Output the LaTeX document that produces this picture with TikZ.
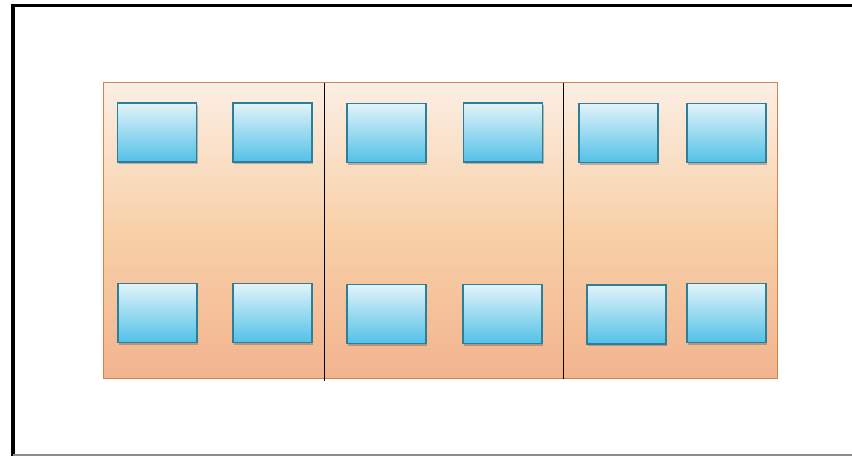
\documentclass[tikz,border=0pt]{standalone}
\usetikzlibrary{shadows}
\definecolor{frametop}{HTML}{FBEEE4}
\definecolor{framemid}{HTML}{F8D0A8}
\definecolor{framebot}{HTML}{F2B48E}
\definecolor{frameedge}{HTML}{D9804A}
\definecolor{boxtop}{HTML}{E2F3F9}
\definecolor{boxbot}{HTML}{52C1E7}
\definecolor{boxedge}{HTML}{2A7F9A}
\tikzset{
  cellbox/.style={rectangle, draw=boxedge, line width=1.4pt, inner sep=0pt,
    minimum width=79pt, minimum height=59pt,
    top color=boxtop, bottom color=boxbot,
    drop shadow={shadow xshift=1pt, shadow yshift=-2pt, opacity=0.35, fill=black!70}},
  panel/.style={rectangle, draw=frameedge, line width=0.8pt, inner sep=0pt,
    top color=frametop, bottom color=framebot, middle color=framemid},
  divider/.style={draw=black, line width=1.2pt},
  outerframe/.style={draw=black, line width=3.8pt}
}
\begin{document}
\begin{tikzpicture}[x=1pt,y=-1pt]
\useasboundingbox (0,0) rectangle (852,456);
\fill[white] (0,0) rectangle (852,456);
% outer frame
\coordinate (tl) at (13,5.5);
\coordinate (tr) at (852,5.5);
\coordinate (bl) at (13,456);
\draw[outerframe] (tr) -- (tl) -- (bl);
\draw[draw=black!45, line width=1.5pt] (13,455) -- (852,455);
% panel
\node[panel, minimum width=674pt, minimum height=296pt] (panel) at (440.5,230) {};
% dividers
\coordinate (d1t) at (324.5,83);
\coordinate (d1b) at (324.5,381);
\coordinate (d2t) at (563.5,83);
\coordinate (d2b) at (563.5,379);
\draw[divider] (d1t) -- (d1b);
\draw[divider] (d2t) -- (d2b);
% top row
\node[cellbox] (a1) at (157,132.5) {};
\node[cellbox] (a2) at (272.5,132.5) {};
\node[cellbox] (a3) at (386.5,133) {};
\node[cellbox] (a4) at (503,132.5) {};
\node[cellbox] (a5) at (618.5,133) {};
\node[cellbox] (a6) at (726.5,133) {};
% bottom row
\node[cellbox] (b1) at (157.5,313) {};
\node[cellbox] (b2) at (272.5,313) {};
\node[cellbox] (b3) at (386.5,314) {};
\node[cellbox] (b4) at (502.5,314) {};
\node[cellbox] (b5) at (626.5,314.5) {};
\node[cellbox] (b6) at (726.5,313) {};
\end{tikzpicture}
\end{document}
